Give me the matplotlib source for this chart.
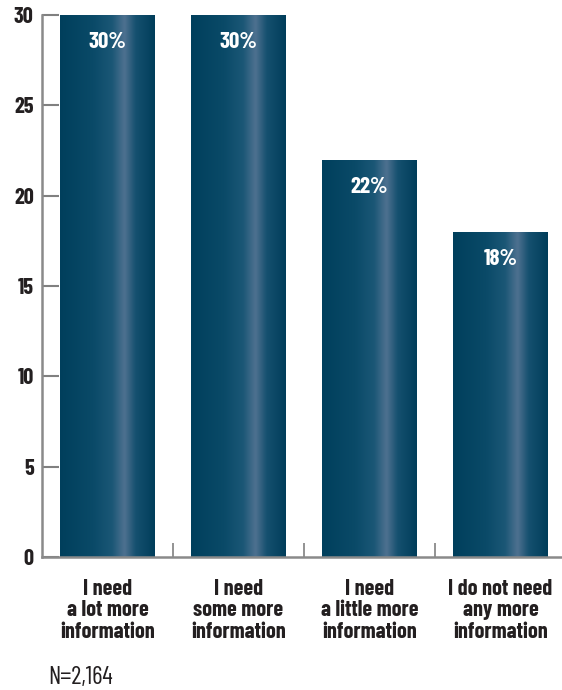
import numpy as np
import matplotlib
matplotlib.use("Agg")
import matplotlib.pyplot as plt
from matplotlib.colors import LinearSegmentedColormap
from matplotlib.patches import Rectangle

categories = ["I need\na lot more\ninformation",
              "I need\nsome more\ninformation",
              "I need\na little more\ninformation",
              "I do not need\nany more\ninformation"]
values = [30, 30, 22, 18]
yticks = [0, 5, 10, 15, 20, 25, 30]
note = "N=2,164"

grad = LinearSegmentedColormap.from_list("bar", [
    (0.0, "#003f5c"), (0.35, "#0a4a68"), (0.55, "#1b5776"),
    (0.68, "#4e7190"), (0.80, "#15506f"), (1.0, "#003d5a")])

fam = ["Barlow Condensed", "DejaVu Sans"]
font = dict(family=fam, weight=700)

fig = plt.figure(figsize=(5.62, 6.9), dpi=100)
ax = fig.add_axes([42 / 562, 133 / 690, 520 / 562, 542 / 690])

width = 0.725
x = np.arange(len(values))
gimg = grad(np.linspace(0, 1, 256))[np.newaxis, :, :]
for xi, v in zip(x, values):
    rect = Rectangle((xi - width / 2, 0), width, v, facecolor="none", edgecolor="none")
    ax.add_patch(rect)
    im = ax.imshow(gimg, extent=(xi - width / 2, xi + width / 2, 0, v),
                   aspect="auto", interpolation="bicubic", zorder=2)
    im.set_clip_path(rect)
    ax.text(xi, v - 1.5, f"{v}%", ha="center", va="center", color="white",
            fontsize=16.5, zorder=3, **font)

ax.set_xlim(-0.5, 3.47)
ax.set_ylim(0, 30)
ax.set_yticks(yticks)
ax.set_yticklabels([str(t) for t in yticks], fontsize=16, color="#231f20", **font)
ax.set_xticks([0.5, 1.5, 2.5])
ax.set_xticklabels([])
ax.tick_params(axis="x", direction="in", length=10, width=1.2, color="#808080")
ax.tick_params(axis="y", direction="in", length=12, width=1.5, color="#808080",
               pad=6)
for s in ["top", "right"]:
    ax.spines[s].set_visible(False)
for s in ["left", "bottom"]:
    ax.spines[s].set_color("#8a8a8a")
    ax.spines[s].set_linewidth(1.8)

for xi, c in zip(x, categories):
    ax.text(xi, -1.2, c, ha="center", va="top", fontsize=16, color="#231f20",
            linespacing=1.1, **font)

fig.text(48 / 562, 1 - 677 / 690, note, ha="left", va="center", fontsize=18,
         color="#231f20", family=fam, weight=400)

fig.savefig("out.png", dpi=100)
